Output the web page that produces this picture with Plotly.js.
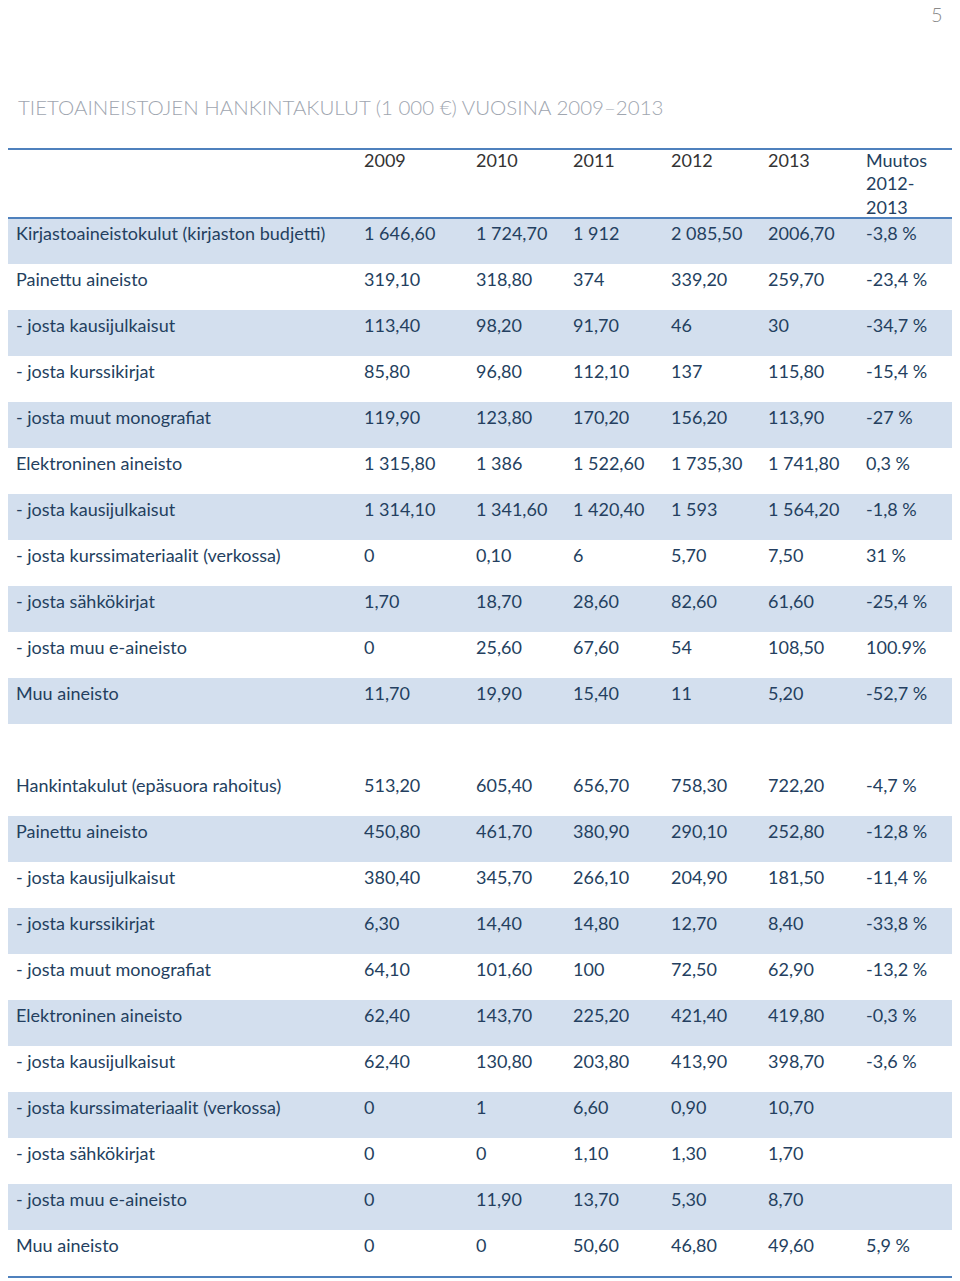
<!DOCTYPE html>
<html>
<head>
<meta charset="utf-8">
<script src="https://cdn.plot.ly/plotly-3.0.1.min.js"></script>
<style>html,body{margin:0;padding:0;background:#fff;}#chart{width:960px;height:1281px;}</style>
</head>
<body>
<div id="chart"></div>
<script>
// ---- data ----
var titleText = "TIETOAINEISTOJEN HANKINTAKULUT (1 000 €) VUOSINA 2009–2013";
var pageNumber = "5";
var headerLabels = ["", "2009", "2010", "2011", "2012", "2013", "Muutos<br>2012-<br>2013"];

var rowLabels = [
  "Kirjastoaineistokulut (kirjaston budjetti)",
  "Painettu aineisto",
  "- josta kausijulkaisut",
  "- josta kurssikirjat",
  "- josta muut monografiat",
  "Elektroninen aineisto",
  "- josta kausijulkaisut",
  "- josta kurssimateriaalit (verkossa)",
  "- josta sähkökirjat",
  "- josta muu e-aineisto",
  "Muu aineisto",
  "",
  "Hankintakulut (epäsuora rahoitus)",
  "Painettu aineisto",
  "- josta kausijulkaisut",
  "- josta kurssikirjat",
  "- josta muut monografiat",
  "Elektroninen aineisto",
  "- josta kausijulkaisut",
  "- josta kurssimateriaalit (verkossa)",
  "- josta sähkökirjat",
  "- josta muu e-aineisto",
  "Muu aineisto"
];
var v2009 = ["1 646,60","319,10","113,40","85,80","119,90","1 315,80","1 314,10","0","1,70","0","11,70","",
             "513,20","450,80","380,40","6,30","64,10","62,40","62,40","0","0","0","0"];
var v2010 = ["1 724,70","318,80","98,20","96,80","123,80","1 386","1 341,60","0,10","18,70","25,60","19,90","",
             "605,40","461,70","345,70","14,40","101,60","143,70","130,80","1","0","11,90","0"];
var v2011 = ["1 912","374","91,70","112,10","170,20","1 522,60","1 420,40","6","28,60","67,60","15,40","",
             "656,70","380,90","266,10","14,80","100","225,20","203,80","6,60","1,10","13,70","50,60"];
var v2012 = ["2 085,50","339,20","46","137","156,20","1 735,30","1 593","5,70","82,60","54","11","",
             "758,30","290,10","204,90","12,70","72,50","421,40","413,90","0,90","1,30","5,30","46,80"];
var v2013 = ["2006,70","259,70","30","115,80","113,90","1 741,80","1 564,20","7,50","61,60","108,50","5,20","",
             "722,20","252,80","181,50","8,40","62,90","419,80","398,70","10,70","1,70","8,70","49,60"];
var change = ["-3,8 %","-23,4 %","-34,7 %","-15,4 %","-27 %","0,3 %","-1,8 %","31 %","-25,4 %","100.9%","-52,7 %","",
              "-4,7 %","-12,8 %","-11,4 %","-33,8 %","-13,2 %","-0,3 %","-3,6 %","","","","5,9 %"];

// ---- style ----
var shadedRows = [0,2,4,6,8,10,13,15,17,19,21];
var shade = "#d3dfee";
var textBlue = "#243f60";
var lineBlue = "#4f81bd";
var fontFam = "Lato, 'Open Sans', sans-serif";
var fontSize = 18;
var figW = 960, figH = 1281;
var headerLineTop = 149;      // page px
var headerTextTop = 141;      // page px where header cells start
var bodyTop = 218;            // page px where body rows start
var rowH = 46;
var colWidths = [348, 112, 97, 98, 97, 98, 94];
var noLine = {width: 0, color: "rgba(0,0,0,0)"};

function yPaper(px){ return 1 - px / figH; }

var rowFill = rowLabels.map(function(_, i){ return shadedRows.indexOf(i) >= 0 ? shade : "#ffffff"; });
var cols = [rowLabels, v2009, v2010, v2011, v2012, v2013, change];

// make every header cell three lines tall so they share the same vertical placement
var headerCells = headerLabels.map(function(t){
  var n = t.split("<br>").length;
  var s = t;
  for (var k = n; k < 3; k++) s += "<br> ";
  return s;
});

var headerTrace = {
  type: "table",
  domain: {x: [0, 1], y: [yPaper(bodyTop + 60), yPaper(headerTextTop)]},
  columnwidth: colWidths,
  header: {
    values: headerCells,
    align: "left",
    height: 70,
    fill: {color: "#ffffff"},
    line: noLine,
    font: {family: fontFam, size: fontSize, color: ["#333","#333","#333","#333","#333","#333",textBlue]}
  },
  cells: {
    values: headerLabels.map(function(){ return [""]; }),
    height: 20,
    fill: {color: "#ffffff"},
    line: noLine
  }
};

// body table: its fixed first row is the first data row, the rest are cells
var bodyTrace = {
  type: "table",
  domain: {x: [0, 1], y: [0, yPaper(bodyTop)]},
  columnwidth: colWidths,
  header: {
    values: cols.map(function(c){ return c[0]; }),
    align: "left",
    height: rowH,
    fill: {color: rowFill[0]},
    line: noLine,
    font: {family: fontFam, size: fontSize, color: textBlue}
  },
  cells: {
    values: cols.map(function(c){ return c.slice(1); }),
    align: "left",
    height: rowH,
    fill: {color: cols.map(function(){ return rowFill.slice(1); })},
    line: noLine,
    font: {family: fontFam, size: fontSize, color: textBlue}
  }
};

var bodyBottom = bodyTop + rowH * rowLabels.length + 1;

var layout = {
  width: figW, height: figH,
  margin: {l: 8, r: 8, t: 0, b: 0},
  paper_bgcolor: "#ffffff",
  showlegend: false,
  shapes: [
    {type: "line", xref: "paper", yref: "paper", x0: 0, x1: 1, y0: yPaper(headerLineTop), y1: yPaper(headerLineTop), line: {color: lineBlue, width: 2}},
    {type: "line", xref: "paper", yref: "paper", x0: 0, x1: 1, y0: yPaper(218), y1: yPaper(218), line: {color: lineBlue, width: 2}},
    {type: "line", xref: "paper", yref: "paper", x0: 0, x1: 1, y0: yPaper(bodyBottom), y1: yPaper(bodyBottom), line: {color: lineBlue, width: 2}}
  ],
  annotations: [
    {text: titleText, xref: "paper", yref: "paper", x: 8 / 944, y: yPaper(107), xanchor: "left", yanchor: "middle",
     showarrow: false, font: {family: "Lato, sans-serif", weight: 300, size: 20.5, color: "#a0a6b0"}},
    {text: pageNumber, xref: "paper", yref: "paper", x: 937 / 944, y: 1, xanchor: "right", yanchor: "top",
     showarrow: false, font: {family: "Lato, sans-serif", weight: 300, size: 20, color: "#8a8a8a"}}
  ]
};

Plotly.newPlot("chart", [headerTrace, bodyTrace], layout, {displayModeBar: false, staticPlot: true});
</script>
</body>
</html>
